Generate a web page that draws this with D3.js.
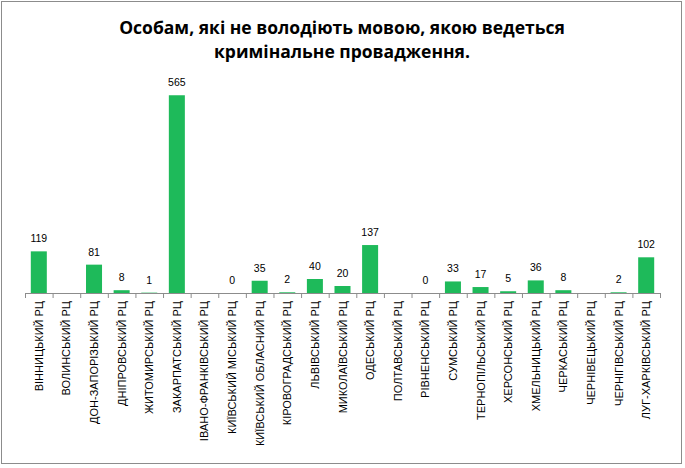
<!DOCTYPE html>
<html>
<head>
<meta charset="utf-8">
<script src="https://cdn.jsdelivr.net/npm/d3@7"></script>
<style>
  body { margin: 0; background: #fff; }
  svg { display: block; }
</style>
</head>
<body>
<svg></svg>
<script>
(function(){
    // Regions (categories) and counts; null = no value shown
    const regions = [
        "ВІННИЦЬКИЙ РЦ", "ВОЛИНСЬКИЙ РЦ", "ДОН-ЗАПОРІЗЬКИЙ РЦ", "ДНІПРОВСЬКИЙ РЦ",
        "ЖИТОМИРСЬКИЙ РЦ", "ЗАКАРПАТСЬКИЙ РЦ", "ІВАНО-ФРАНКІВСЬКИЙ РЦ", "КИЇВСЬКИЙ МІСЬКИЙ РЦ",
        "КИЇВСЬКИЙ ОБЛАСНИЙ РЦ", "КІРОВОГРАДСЬКИЙ РЦ", "ЛЬВІВСЬКИЙ РЦ", "МИКОЛАЇВСЬКИЙ РЦ",
        "ОДЕСЬКИЙ РЦ", "ПОЛТАВСЬКИЙ РЦ", "РІВНЕНСЬКИЙ РЦ", "СУМСЬКИЙ РЦ",
        "ТЕРНОПІЛЬСЬКИЙ РЦ", "ХЕРСОНСЬКИЙ РЦ", "ХМЕЛЬНИЦЬКИЙ РЦ", "ЧЕРКАСЬКИЙ РЦ",
        "ЧЕРНІВЕЦЬКИЙ РЦ", "ЧЕРНІГІВСЬКИЙ РЦ", "ЛУГ-ХАРКІВСЬКИЙ РЦ"
    ];
    const counts = [119, null, 81, 8, 1, 565, null, 0, 35, 2, 40, 20,
                    137, null, 0, 33, 17, 5, 36, 8, null, 2, 102];
    const titleLines = ["Особам, які не володіють мовою, якою ведеться",
                        "кримінальне провадження."];

    const W = 685, H = 468;
    const svg = d3.select("svg").attr("width", W).attr("height", H);

    // Outer frame
    svg.append("rect")
        .attr("x", 1.5).attr("y", 1.5)
        .attr("width", 680).attr("height", 462)
        .attr("fill", "#fff")
        .attr("stroke", "#8c8c8c");

    // Title
    svg.append("text")
        .attr("text-anchor", "middle")
        .attr("font-family", "'Open Sans', sans-serif")
        .attr("font-weight", "bold")
        .attr("font-size", 17.5)
        .attr("fill", "#000")
        .selectAll("tspan")
        .data(titleLines)
        .enter().append("tspan")
        .attr("x", 342)
        .attr("y", (d, i) => 34 + i * 24)
        .text(d => d);

    const data = regions.map((r, i) => ({ name: r, value: counts[i] }));

    const x = d3.scaleBand()
        .domain(regions)
        .range([25, 660])
        .paddingInner(0.42)
        .paddingOuter(0.21);

    const y = d3.scaleLinear()
        .domain([0, 600])
        .range([293, 83]);

    // Bars
    svg.selectAll(".bar")
        .data(data.filter(d => d.value !== null))
        .enter().append("rect")
        .attr("class", "bar")
        .attr("x", d => x(d.name))
        .attr("width", x.bandwidth())
        .attr("y", d => y(d.value))
        .attr("height", d => y(0) - y(d.value))
        .attr("fill", "#1eba5a");

    // Value labels
    svg.selectAll(".val")
        .data(data.filter(d => d.value !== null))
        .enter().append("text")
        .attr("class", "val")
        .attr("x", d => x(d.name) + x.bandwidth() / 2)
        .attr("y", d => y(d.value) - 9)
        .attr("text-anchor", "middle")
        .attr("font-family", "'Liberation Sans', Arial, sans-serif")
        .attr("font-size", 10.5)
        .attr("fill", "#000")
        .text(d => d.value);

    // X axis with ticks at band boundaries
    const axis = svg.append("g");
    axis.append("line")
        .attr("x1", 25).attr("x2", 660)
        .attr("y1", 293.5).attr("y2", 293.5)
        .attr("stroke", "#8c8c8c");
    axis.selectAll(".tick")
        .data(d3.range(regions.length + 1))
        .enter().append("line")
        .attr("x1", i => 25 + i * (635 / regions.length) + 0.5)
        .attr("x2", i => 25 + i * (635 / regions.length) + 0.5)
        .attr("y1", 293).attr("y2", 298)
        .attr("stroke", "#8c8c8c");

    axis.selectAll(".cat")
        .data(regions)
        .enter().append("text")
        .attr("class", "cat")
        .attr("transform", d => `translate(${x(d) + x.bandwidth() / 2 + 4},301) rotate(-90)`)
        .attr("text-anchor", "end")
        .attr("font-family", "'Liberation Sans', Arial, sans-serif")
        .attr("font-size", 11)
        .attr("fill", "#000")
        .text(d => d);
})();
</script>
</body>
</html>
